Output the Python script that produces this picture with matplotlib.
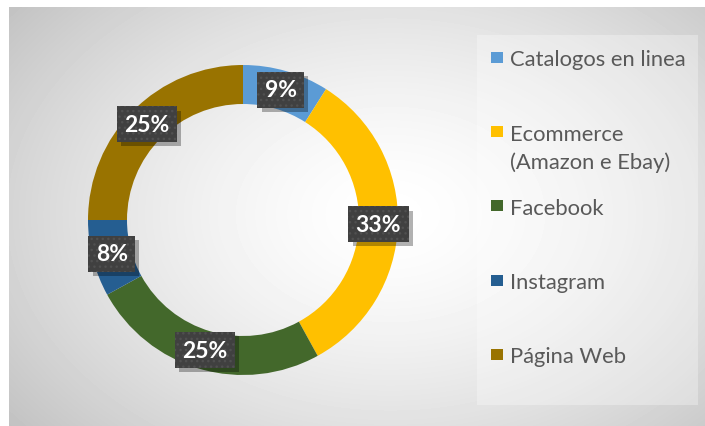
import numpy as np
import matplotlib.pyplot as plt
import matplotlib.patheffects as pe
from matplotlib.patches import Rectangle

categorias = ["Catalogos en linea", "Ecommerce\n(Amazon e Ebay)", "Facebook", "Instagram", "Página Web"]
porcentajes = [9, 33, 25, 8, 25]
etiquetas = ["9%", "33%", "25%", "8%", "25%"]
colores = ["#5B9BD5", "#FFC000", "#43682B", "#255E91", "#997300"]

plt.rcParams['font.family'] = ['Lato', 'DejaVu Sans']


class Sombra(pe.AbstractPathEffect):
    # sombra simple sin trama
    def draw_path(self, renderer, gc, tpath, affine, rgbFace):
        gc0 = renderer.new_gc()
        gc0.copy_properties(gc)
        gc0.set_hatch(None)
        gc0.set_linewidth(0)
        gc0.set_alpha(0.3)
        renderer.draw_path(gc0, tpath, affine + self._offset_transform(renderer), (0, 0, 0))
        gc0.restore()


W, H = 705, 427
fig = plt.figure(figsize=(W / 100, H / 100), dpi=100)
fig.patch.set_facecolor('white')

# fondo con degradado radial (area del grafico)
bg = fig.add_axes([9 / W, 0, 1 - 9 / W, 1 - 8 / H])
yy, xx = np.mgrid[8:H, 9:W]
d = np.sqrt(((xx - 390) / 330.0) ** 2 + ((yy - 215) / 230.0) ** 2)
gris = 1 - 0.24 * (d / d.max()) ** 1.5
bg.imshow(gris, cmap='gray', vmin=0, vmax=1, aspect='auto', interpolation='bilinear')
bg.axis('off')

# panel de la leyenda
fig.add_artist(Rectangle((477 / W, 1 - 406 / H), (698 - 477) / W, (406 - 36) / H,
                         transform=fig.transFigure, facecolor='white', alpha=0.3, lw=0))

# dona
R = 155
cx, cy = 243, 221
ax = fig.add_axes([(cx - 170) / W, (H - cy - 170) / H, 340 / W, 340 / H])
ancho = 39 / R
wedges, _ = ax.pie(porcentajes, colors=colores, startangle=90, counterclock=False,
                   radius=1, wedgeprops=dict(width=ancho, linewidth=0))
lim = 170 / R
ax.set_xlim(-lim, lim)
ax.set_ylim(-lim, lim)
ax.axis('off')

for w, t in zip(wedges, etiquetas):
    ang = np.deg2rad((w.theta1 + w.theta2) / 2)
    r = 1 - ancho / 2
    x, y = r * np.cos(ang), r * np.sin(ang)
    txt = ax.text(x, y, t, ha='center', va='center', fontsize=16.5, fontweight='bold',
                  color='white',
                  bbox=dict(boxstyle='square,pad=0.32', facecolor='#404040',
                            edgecolor='#505050', hatch='...', lw=0))
    txt.get_bbox_patch().set_path_effects([Sombra(offset=(3, -3)), pe.Normal()])

# leyenda manual
for i, (cat, col) in enumerate(zip(categorias, colores)):
    yc = 58.5 + 74.2 * i
    fig.add_artist(Rectangle((491 / W, 1 - (yc + 5.5) / H), 12 / W, 11 / H,
                             transform=fig.transFigure, facecolor=col, lw=0))
    for j, linea in enumerate(cat.split('\n')):
        fig.text(510 / W, 1 - (yc + 8 + 28 * j) / H, linea, fontsize=15.8,
                 color='#595959', va='baseline', ha='left')

fig.savefig('out.png', dpi=100)
